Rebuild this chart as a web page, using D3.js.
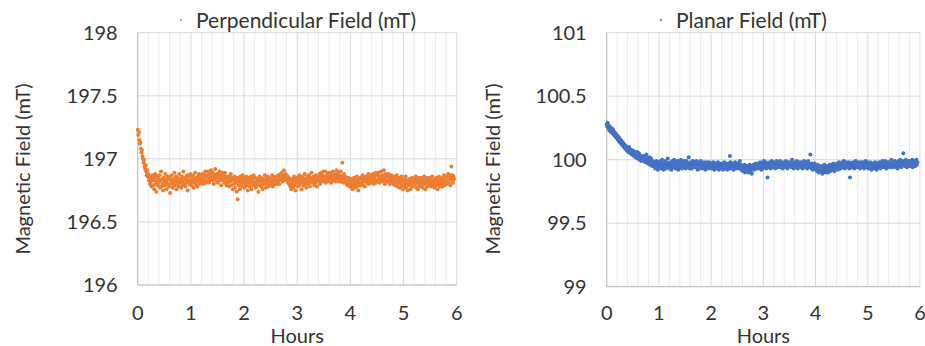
<!DOCTYPE html>
<html>
<head>
<meta charset="utf-8">
<script src="https://cdn.jsdelivr.net/npm/d3@7"></script>
<style>
  html, body { margin: 0; padding: 0; background: #fff; }
  svg { display: block; font-family: Lato, "Open Sans", sans-serif; }
  .tick-label { fill: #333; font-size: 20px; }
  .axis-title { fill: #333; font-size: 20px; }
  .legend-text { fill: #333; font-size: 21px; }
</style>
</head>
<body>
<div id="chart"></div>
<script>
// sampling interval of both recordings, hours
const timeStep = 0.01;

const xTicks = [0, 1, 2, 3, 4, 5, 6];
const perpTicks = [196, 196.5, 197, 197.5, 198];
const planarTicks = [99, 99.5, 100, 100.5, 101];

// Perpendicular field, mT
const perpValues = [
  197.23, 197.19, 197.21, 197.15, 197.12, 197.13, 197.08, 197.05, 197.07, 197.02,
  197.00, 196.97, 196.99, 196.94, 196.92, 196.95, 196.90, 196.87, 196.91, 196.86,
  196.88, 196.83, 196.85, 196.80, 196.86, 196.82, 196.78, 196.84, 196.87, 196.79,
  196.83, 196.76, 196.85, 196.88, 196.80, 196.74, 196.82, 196.86, 196.79, 196.84,
  196.81, 196.87, 196.77, 196.83, 196.90, 196.78, 196.84, 196.80, 196.75, 196.85,
  196.82, 196.79, 196.88, 196.83, 196.76, 196.81, 196.86, 196.80, 196.84, 196.78,
  196.85, 196.73, 196.83, 196.80, 196.87, 196.82, 196.77, 196.84, 196.81, 196.89,
  196.79, 196.83, 196.86, 196.76, 196.82, 196.85, 196.80, 196.78, 196.88, 196.83,
  196.81, 196.84, 196.77, 196.86, 196.82, 196.79, 196.90, 196.83, 196.80, 196.85,
  196.78, 196.84, 196.81, 196.87, 196.75, 196.83, 196.86, 196.80, 196.82, 196.88,
  196.83, 196.79, 196.85, 196.81, 196.87, 196.77, 196.84, 196.82, 196.89, 196.80,
  196.85, 196.82, 196.78, 196.86, 196.83, 196.88, 196.80, 196.84, 196.87, 196.81,
  196.85, 196.82, 196.88, 196.80, 196.84, 196.87, 196.83, 196.90, 196.81, 196.86,
  196.87, 196.82, 196.90, 196.84, 196.81, 196.88, 196.85, 196.83, 196.91, 196.86,
  196.83, 196.89, 196.86, 196.80, 196.87, 196.84, 196.92, 196.85, 196.82, 196.88,
  196.86, 196.81, 196.88, 196.84, 196.90, 196.83, 196.87, 196.79, 196.85, 196.89,
  196.83, 196.87, 196.85, 196.81, 196.89, 196.84, 196.86, 196.79, 196.85, 196.82,
  196.81, 196.86, 196.78, 196.84, 196.82, 196.88, 196.79, 196.85, 196.83, 196.76,
  196.84, 196.80, 196.86, 196.77, 196.83, 196.81, 196.74, 196.85, 196.68, 196.82,
  196.79, 196.84, 196.76, 196.86, 196.81, 196.78, 196.83, 196.87, 196.80, 196.85,
  196.82, 196.77, 196.84, 196.80, 196.86, 196.79, 196.83, 196.75, 196.81, 196.85,
  196.78, 196.83, 196.80, 196.86, 196.76, 196.82, 196.84, 196.79, 196.87, 196.81,
  196.80, 196.85, 196.77, 196.82, 196.79, 196.84, 196.81, 196.74, 196.83, 196.86,
  196.79, 196.82, 196.85, 196.78, 196.81, 196.76, 196.84, 196.80, 196.83, 196.87,
  196.81, 196.77, 196.84, 196.80, 196.86, 196.82, 196.78, 196.85, 196.79, 196.83,
  196.80, 196.84, 196.81, 196.87, 196.78, 196.83, 196.86, 196.80, 196.85, 196.82,
  196.83, 196.80, 196.86, 196.82, 196.87, 196.83, 196.80, 196.86, 196.84, 196.88,
  196.85, 196.89, 196.82, 196.87, 196.84, 196.91, 196.86, 196.83, 196.88, 196.85,
  196.87, 196.83, 196.86, 196.81, 196.85, 196.80, 196.84, 196.78, 196.83, 196.76,
  196.80, 196.84, 196.77, 196.82, 196.86, 196.79, 196.83, 196.75, 196.81, 196.85,
  196.83, 196.78, 196.85, 196.81, 196.87, 196.79, 196.84, 196.82, 196.76, 196.86,
  196.81, 196.85, 196.79, 196.83, 196.88, 196.80, 196.84, 196.77, 196.82, 196.86,
  196.84, 196.80, 196.87, 196.82, 196.78, 196.85, 196.83, 196.89, 196.81, 196.84,
  196.82, 196.86, 196.79, 196.84, 196.81, 196.87, 196.83, 196.78, 196.85, 196.82,
  196.86, 196.83, 196.88, 196.80, 196.85, 196.89, 196.82, 196.87, 196.84, 196.90,
  196.82, 196.86, 196.84, 196.90, 196.81, 196.85, 196.87, 196.83, 196.89, 196.84,
  196.86, 196.82, 196.89, 196.84, 196.81, 196.87, 196.85, 196.90, 196.83, 196.86,
  196.84, 196.88, 196.82, 196.87, 196.91, 196.85, 196.83, 196.89, 196.86, 196.82,
  196.87, 196.84, 196.90, 196.82, 196.86, 196.97, 196.85, 196.81, 196.88, 196.84,
  196.86, 196.82, 196.85, 196.80, 196.84, 196.79, 196.85, 196.81, 196.83, 196.78,
  196.82, 196.78, 196.84, 196.80, 196.76, 196.83, 196.79, 196.85, 196.81, 196.77,
  196.83, 196.80, 196.86, 196.78, 196.82, 196.75, 196.84, 196.81, 196.79, 196.85,
  196.80, 196.84, 196.81, 196.87, 196.79, 196.83, 196.85, 196.78, 196.82, 196.86,
  196.84, 196.81, 196.86, 196.82, 196.88, 196.80, 196.85, 196.83, 196.87, 196.81,
  196.85, 196.82, 196.88, 196.83, 196.80, 196.86, 196.84, 196.89, 196.81, 196.87,
  196.83, 196.87, 196.82, 196.89, 196.85, 196.81, 196.86, 196.84, 196.90, 196.83,
  196.87, 196.82, 196.85, 196.91, 196.84, 196.80, 196.88, 196.83, 196.86, 196.82,
  196.86, 196.82, 196.88, 196.84, 196.80, 196.85, 196.83, 196.87, 196.81, 196.85,
  196.84, 196.80, 196.86, 196.82, 196.79, 196.85, 196.81, 196.87, 196.78, 196.83,
  196.80, 196.85, 196.82, 196.77, 196.84, 196.81, 196.86, 196.79, 196.83, 196.76,
  196.82, 196.78, 196.84, 196.80, 196.86, 196.77, 196.81, 196.83, 196.75, 196.82,
  196.79, 196.84, 196.80, 196.76, 196.83, 196.81, 196.85, 196.78, 196.82, 196.80,
  196.84, 196.79, 196.82, 196.86, 196.77, 196.81, 196.83, 196.76, 196.85, 196.80,
  196.78, 196.83, 196.81, 196.85, 196.79, 196.84, 196.77, 196.82, 196.80, 196.86,
  196.81, 196.76, 196.84, 196.80, 196.83, 196.78, 196.85, 196.82, 196.79, 196.84,
  196.80, 196.85, 196.78, 196.82, 196.86, 196.79, 196.83, 196.81, 196.77, 196.84,
  196.82, 196.79, 196.85, 196.81, 196.76, 196.83, 196.80, 196.86, 196.78, 196.82,
  196.84, 196.80, 196.83, 196.78, 196.85, 196.81, 196.87, 196.79, 196.83, 196.86,
  196.82, 196.86, 196.80, 196.85, 196.88, 196.81, 196.84, 196.87, 196.79, 196.85,
  196.94, 196.83, 196.87, 196.81, 196.86, 196.84
];

// Planar field, mT
const planarValues = [
  100.28, 100.26, 100.29, 100.25, 100.27, 100.23, 100.26, 100.24, 100.22, 100.25,
  100.23, 100.21, 100.24, 100.20, 100.22, 100.19, 100.21, 100.18, 100.20, 100.17,
  100.19, 100.16, 100.18, 100.15, 100.17, 100.14, 100.16, 100.13, 100.15, 100.12,
  100.14, 100.11, 100.13, 100.10, 100.12, 100.09, 100.11, 100.08, 100.10, 100.07,
  100.09, 100.06, 100.08, 100.10, 100.07, 100.05, 100.08, 100.06, 100.04, 100.07,
  100.05, 100.07, 100.03, 100.06, 100.04, 100.02, 100.05, 100.03, 100.06, 100.01,
  100.04, 100.02, 100.05, 100.00, 100.03, 100.01, 99.99, 100.03, 100.00, 100.02,
  100.01, 99.99, 100.03, 100.00, 99.98, 100.02, 100.04, 99.99, 100.01, 99.97,
  100.00, 99.98, 100.02, 99.96, 99.99, 100.01, 99.97, 99.95, 99.99, 99.97,
  99.95, 99.98, 99.96, 99.93, 99.97, 99.99, 99.94, 99.96, 99.92, 99.97,
  99.94, 99.98, 99.95, 99.99, 99.93, 99.96, 100.00, 99.94, 99.97, 99.92,
  99.97, 99.95, 99.99, 99.93, 99.96, 99.98, 99.94, 100.01, 99.95, 99.97,
  99.93, 99.96, 99.98, 99.95, 99.92, 99.97, 99.99, 99.94, 99.96, 100.00,
  99.95, 99.97, 99.93, 99.98, 99.96, 99.94, 99.99, 99.92, 99.96, 99.98,
  99.94, 99.97, 100.00, 99.95, 99.93, 99.98, 99.96, 99.94, 99.99, 99.95,
  99.97, 99.93, 99.96, 99.99, 99.94, 99.97, 99.95, 100.02, 99.96, 99.93,
  99.98, 99.95, 99.97, 99.93, 99.96, 99.99, 99.94, 99.97, 99.95, 99.98,
  99.94, 99.96, 99.99, 99.95, 99.92, 99.97, 99.95, 99.98, 99.93, 99.96,
  99.99, 99.94, 99.96, 99.93, 99.97, 99.95, 99.98, 99.94, 99.96, 99.92,
  99.96, 99.98, 99.94, 99.97, 99.95, 99.93, 99.98, 99.96, 99.94, 99.97,
  99.95, 99.93, 99.97, 99.94, 99.98, 99.95, 99.92, 99.96, 99.94, 99.97,
  99.93, 99.96, 99.94, 99.98, 99.95, 99.92, 99.97, 99.94, 99.96, 99.93,
  99.97, 99.94, 99.96, 99.92, 99.95, 99.98, 99.93, 99.96, 99.94, 99.97,
  99.95, 99.92, 99.96, 99.94, 99.97, 99.93, 100.03, 99.98, 99.94, 99.96,
  99.93, 99.97, 99.95, 99.92, 99.96, 99.94, 99.98, 99.95, 99.93, 99.97,
  99.96, 99.94, 99.97, 99.93, 99.95, 99.99, 99.94, 99.96, 99.92, 99.95,
  99.94, 99.91, 99.95, 99.92, 99.96, 99.90, 99.93, 99.95, 99.91, 99.94,
  99.92, 99.95, 99.90, 99.93, 99.96, 99.91, 99.94, 99.92, 99.89, 99.95,
  99.93, 99.96, 99.92, 99.95, 99.94, 99.97, 99.93, 99.93, 99.96, 99.94,
  99.97, 99.93, 99.96, 99.94, 99.98, 99.95, 99.92, 99.97, 99.95, 99.93,
  99.96, 99.99, 99.94, 99.97, 99.95, 99.98, 99.93, 99.96, 99.86, 99.95,
  99.97, 99.94, 99.98, 99.96, 99.93, 99.97, 99.99, 99.95, 99.97, 99.94,
  99.98, 99.95, 99.97, 99.93, 99.96, 99.99, 99.95, 99.97, 99.94, 99.98,
  99.95, 99.97, 99.99, 99.94, 99.96, 99.98, 99.95, 99.93, 99.97, 99.96,
  99.98, 99.94, 99.96, 99.99, 99.95, 99.97, 99.93, 99.96, 99.98, 99.95,
  99.97, 99.95, 99.98, 99.94, 99.96, 100.00, 99.95, 99.97, 99.93, 99.96,
  99.98, 99.94, 99.97, 99.95, 99.99, 99.96, 99.93, 99.97, 99.95, 99.98,
  99.95, 99.97, 99.94, 99.98, 99.96, 99.93, 99.97, 99.95, 99.99, 99.96,
  99.94, 99.97, 99.95, 99.98, 99.93, 99.96, 99.99, 99.94, 99.97, 99.95,
  100.04, 99.96, 99.93, 99.97, 99.95, 99.92, 99.96, 99.94, 99.97, 99.93,
  99.95, 99.92, 99.94, 99.91, 99.96, 99.93, 99.90, 99.94, 99.92, 99.95,
  99.91, 99.94, 99.92, 99.89, 99.95, 99.93, 99.91, 99.96, 99.92, 99.90,
  99.94, 99.91, 99.95, 99.93, 99.90, 99.94, 99.92, 99.96, 99.91, 99.93,
  99.95, 99.92, 99.96, 99.93, 99.97, 99.94, 99.91, 99.95, 99.93, 99.96,
  99.94, 99.97, 99.95, 99.92, 99.96, 99.98, 99.94, 99.96, 99.93, 99.97,
  99.95, 99.98, 99.94, 99.96, 99.99, 99.95, 99.93, 99.97, 99.95, 99.98,
  99.96, 99.94, 99.97, 99.95, 99.98, 99.93, 99.86, 99.96, 99.94, 99.97,
  99.95, 99.98, 99.94, 99.96, 99.93, 99.97, 99.95, 99.99, 99.94, 99.96,
  99.97, 99.94, 99.96, 99.98, 99.95, 99.93, 99.97, 99.95, 99.98, 99.94,
  99.96, 99.98, 99.95, 99.93, 99.97, 99.95, 99.99, 99.94, 99.96, 99.98,
  99.95, 99.93, 99.97, 99.94, 99.96, 99.98, 99.95, 99.92, 99.96, 99.94,
  99.97, 99.95, 99.93, 99.96, 99.98, 99.94, 99.96, 99.92, 99.97, 99.95,
  99.94, 99.96, 99.98, 99.95, 99.93, 99.97, 99.94, 99.96, 99.99, 99.95,
  99.97, 99.94, 99.96, 99.99, 99.95, 99.97, 99.93, 99.96, 99.98, 99.95,
  99.98, 99.95, 99.97, 99.94, 99.96, 100.00, 99.95, 99.97, 99.94, 99.98,
  99.96, 99.99, 99.95, 99.97, 99.94, 99.98, 99.96, 99.93, 99.97, 99.99,
  99.95, 99.97, 100.00, 99.96, 99.94, 99.98, 99.96, 99.99, 100.05, 99.97,
  99.98, 99.95, 99.97, 100.00, 99.96, 99.94, 99.98, 99.96, 99.99, 99.95,
  99.97, 99.99, 99.95, 99.98, 99.96, 100.00, 99.94, 99.97, 99.99, 99.96,
  99.98, 99.95, 99.97, 100.00, 99.96, 99.98
];

const width = 925;
const height = 346;

const svg = d3.select('#chart')
  .append('svg')
  .attr('width', width)
  .attr('height', height);

function drawPanel(opts) {
  const x = d3.scaleLinear().domain([0, 6]).range([opts.left, opts.right]);
  const y = d3.scaleLinear().domain(d3.extent(opts.yTicks)).range([opts.bottom, opts.top]);
  const g = svg.append('g');

  // minor vertical grid every 0.2 h
  const minor = d3.range(0, 30).map(i => i * 0.2).filter(v => Math.abs(v - Math.round(v)) > 1e-6);
  g.append('g').selectAll('line')
    .data(minor)
    .join('line')
    .attr('x1', d => x(d)).attr('x2', d => x(d))
    .attr('y1', y.range()[0]).attr('y2', y.range()[1])
    .attr('stroke', '#ececec')
    .attr('stroke-width', 1);

  // major grid
  g.append('g').selectAll('line')
    .data(xTicks)
    .join('line')
    .attr('x1', d => x(d)).attr('x2', d => x(d))
    .attr('y1', y.range()[0]).attr('y2', y.range()[1])
    .attr('stroke', '#d9d9d9');
  g.append('g').selectAll('line')
    .data(opts.yTicks)
    .join('line')
    .attr('x1', x.range()[0]).attr('x2', x.range()[1])
    .attr('y1', d => y(d)).attr('y2', d => y(d))
    .attr('stroke', '#d9d9d9');

  // axis lines
  g.append('line')
    .attr('x1', x(0)).attr('x2', x(0))
    .attr('y1', y.range()[0]).attr('y2', y.range()[1])
    .attr('stroke', '#bfbfbf');
  g.append('line')
    .attr('x1', x(0)).attr('x2', x(6))
    .attr('y1', y.range()[0]).attr('y2', y.range()[0])
    .attr('stroke', '#bfbfbf');

  // points
  g.append('g').selectAll('circle')
    .data(opts.values)
    .join('circle')
    .attr('cx', (d, i) => x(i * timeStep))
    .attr('cy', d => y(d))
    .attr('r', 2)
    .attr('fill', opts.color);

  // tick labels
  g.append('g').selectAll('text')
    .data(opts.yTicks)
    .join('text')
    .attr('class', 'tick-label')
    .attr('x', opts.left - 20)
    .attr('y', d => y(d))
    .attr('dy', '0.35em')
    .attr('text-anchor', 'end')
    .text(d => d);
  g.append('g').selectAll('text')
    .data(xTicks)
    .join('text')
    .attr('class', 'tick-label')
    .attr('x', d => x(d))
    .attr('y', 320)
    .attr('text-anchor', 'middle')
    .text(d => d);

  g.append('text')
    .attr('class', 'axis-title')
    .attr('x', (opts.left + opts.right) / 2)
    .attr('y', 343)
    .attr('text-anchor', 'middle')
    .text('Hours');
  g.append('text')
    .attr('class', 'axis-title')
    .attr('transform', `translate(${opts.titleX},169) rotate(-90)`)
    .attr('text-anchor', 'middle')
    .text('Magnetic Field (mT)');

  // legend
  g.append('circle')
    .attr('cx', opts.legendX)
    .attr('cy', 20)
    .attr('r', 1.2)
    .attr('fill', opts.color)
    .attr('opacity', 0.7);
  g.append('text')
    .attr('class', 'legend-text')
    .attr('x', opts.legendX + 15)
    .attr('y', 28)
    .text(opts.label);
}

drawPanel({
  values: perpValues, yTicks: perpTicks, color: '#ed7d31',
  left: 137.7, right: 456.7, top: 32.7, bottom: 285,
  titleX: 30, legendX: 181, label: 'Perpendicular Field (mT)'
});

drawPanel({
  values: planarValues, yTicks: planarTicks, color: '#4472c4',
  left: 606.7, right: 920, top: 32.7, bottom: 286.7,
  titleX: 500, legendX: 661, label: 'Planar Field (mT)'
});
</script>
</body>
</html>
